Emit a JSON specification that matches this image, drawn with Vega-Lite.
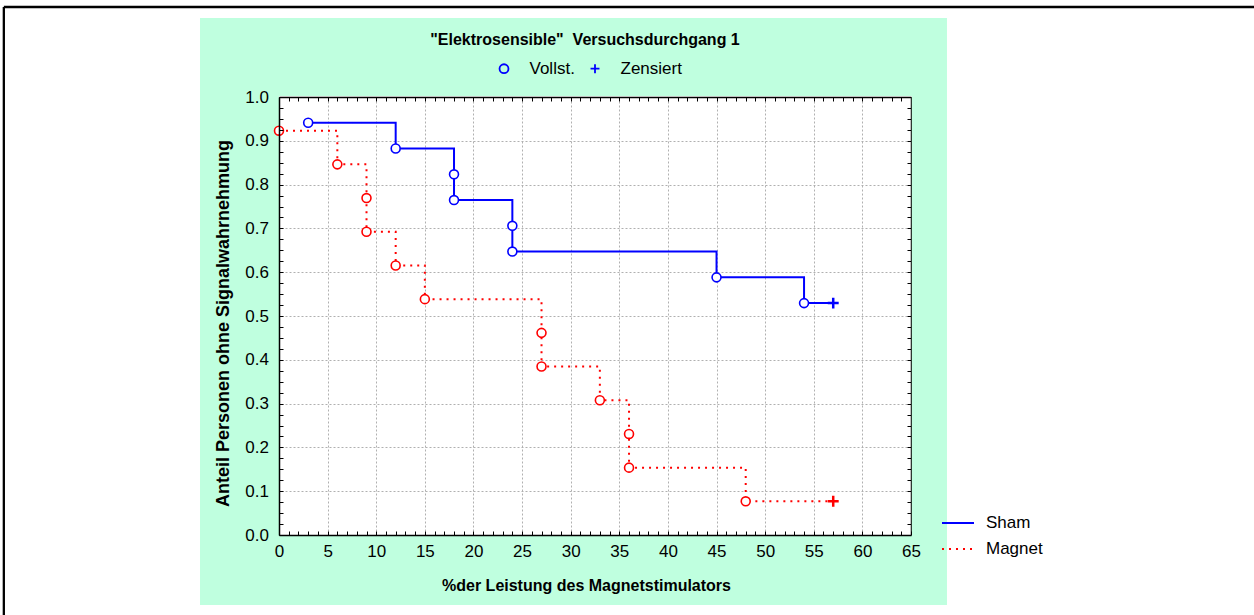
{
  "$schema": "https://vega.github.io/schema/vega-lite/v6.json",
  "autosize": "none",
  "width": 632,
  "height": 438,
  "padding": {"left": 279, "top": 97, "right": 343, "bottom": 80},
  "background": "white",
  "config": {"font": "Liberation Sans", "view": {"stroke": null}},
  "title": {"text": "\"Elektrosensible\"\u00a0 Versuchsdurchgang 1", "fontSize": 16, "fontWeight": "bold", "color": "black", "anchor": "middle", "offset": -42, "dx": -10, "zindex": 1},
  "data": {"values": [
    {"g": "Sham", "x": 3, "s": 0.9412, "t": "Vollst.", "i": 1},
    {"g": "Sham", "x": 12, "s": 0.8824, "t": "Vollst.", "i": 2},
    {"g": "Sham", "x": 18, "s": 0.8235, "t": "Vollst.", "i": 3},
    {"g": "Sham", "x": 18, "s": 0.7647, "t": "Vollst.", "i": 4},
    {"g": "Sham", "x": 24, "s": 0.7059, "t": "Vollst.", "i": 5},
    {"g": "Sham", "x": 24, "s": 0.6471, "t": "Vollst.", "i": 6},
    {"g": "Sham", "x": 45, "s": 0.5882, "t": "Vollst.", "i": 7},
    {"g": "Sham", "x": 54, "s": 0.5294, "t": "Vollst.", "i": 8},
    {"g": "Sham", "x": 57, "s": 0.5294, "t": "Zensiert", "i": 9},
    {"g": "Magnet", "x": 0, "s": 0.9231, "t": "Vollst.", "i": 1},
    {"g": "Magnet", "x": 6, "s": 0.8462, "t": "Vollst.", "i": 2},
    {"g": "Magnet", "x": 9, "s": 0.7692, "t": "Vollst.", "i": 3},
    {"g": "Magnet", "x": 9, "s": 0.6923, "t": "Vollst.", "i": 4},
    {"g": "Magnet", "x": 12, "s": 0.6154, "t": "Vollst.", "i": 5},
    {"g": "Magnet", "x": 15, "s": 0.5385, "t": "Vollst.", "i": 6},
    {"g": "Magnet", "x": 27, "s": 0.4615, "t": "Vollst.", "i": 7},
    {"g": "Magnet", "x": 27, "s": 0.3846, "t": "Vollst.", "i": 8},
    {"g": "Magnet", "x": 33, "s": 0.3077, "t": "Vollst.", "i": 9},
    {"g": "Magnet", "x": 36, "s": 0.2308, "t": "Vollst.", "i": 10},
    {"g": "Magnet", "x": 36, "s": 0.1538, "t": "Vollst.", "i": 11},
    {"g": "Magnet", "x": 48, "s": 0.0769, "t": "Vollst.", "i": 12},
    {"g": "Magnet", "x": 57, "s": 0.0769, "t": "Zensiert", "i": 13}
  ]},
  "layer": [
    {
      "data": {"values": [{}]},
      "mark": {"type": "rect", "color": "#BFFFDF"},
      "encoding": {
        "x": {"datum": -8.125, "type": "quantitative", "scale": {"domain": [0, 65], "nice": false, "zero": false}, "axis": null},
        "x2": {"datum": 68.7},
        "y": {"datum": 1.0025, "type": "quantitative", "scale": {"domain": [0, 1], "nice": false}, "axis": null},
        "y2": {"datum": 1.1804}
      }
    },
    {
      "data": {"values": [{}]},
      "mark": {"type": "rect", "color": "#BFFFDF"},
      "encoding": {
        "x": {"datum": -8.125, "type": "quantitative", "axis": null},
        "x2": {"datum": 68.7},
        "y": {"datum": -0.1598, "type": "quantitative", "axis": null},
        "y2": {"datum": 0}
      }
    },
    {
      "data": {"values": [{}]},
      "mark": {"type": "rect", "color": "#BFFFDF"},
      "encoding": {
        "x": {"datum": -8.125, "type": "quantitative", "axis": null},
        "x2": {"datum": 0},
        "y": {"datum": 0, "type": "quantitative", "axis": null},
        "y2": {"datum": 1.0025}
      }
    },
    {
      "data": {"values": [{}]},
      "mark": {"type": "rect", "color": "#BFFFDF"},
      "encoding": {
        "x": {"datum": 65.08, "type": "quantitative", "axis": null},
        "x2": {"datum": 68.7},
        "y": {"datum": 0, "type": "quantitative", "axis": null},
        "y2": {"datum": 1.0025}
      }
    },
    {
      "data": {"values": [{}]},
      "mark": {"type": "rule", "color": "black", "strokeWidth": 2.3},
      "encoding": {
        "x": {"datum": -28.3, "type": "quantitative", "axis": null},
        "x2": {"datum": 200},
        "y": {"datum": 1.2055, "type": "quantitative", "axis": null}
      }
    },
    {
      "data": {"values": [{}]},
      "mark": {"type": "rule", "color": "black", "strokeWidth": 2.3},
      "encoding": {
        "x": {"datum": -28.3, "type": "quantitative", "axis": null},
        "y": {"datum": 1.2055, "type": "quantitative", "axis": null},
        "y2": {"datum": -2}
      }
    },
    {
      "mark": {"type": "line", "interpolate": "step-after", "strokeWidth": 2},
      "encoding": {
        "x": {"field": "x", "type": "quantitative", "scale": {"domain": [0, 65], "nice": false, "zero": false},
          "axis": {"orient": "bottom", "zindex": 1, "values": [0,1,2,3,4,5,6,7,8,9,10,11,12,13,14,15,16,17,18,19,20,21,22,23,24,25,26,27,28,29,30,31,32,33,34,35,36,37,38,39,40,41,42,43,44,45,46,47,48,49,50,51,52,53,54,55,56,57,58,59,60,61,62,63,64,65],
            "grid": false, "domainColor": "black", "domainWidth": 1.5, "tickColor": "black", "tickSize": -4, "tickWidth": 1,
            "labelExpr": "datum.value % 5 === 0 ? datum.label : ''", "labelOverlap": false, "labelFlush": false,
            "labelFontSize": 17, "labelColor": "black", "labelPadding": 12,
            "title": "%der Leistung des Magnetstimulators", "titleFontSize": 16, "titleFontWeight": "bold", "titleColor": "black", "titlePadding": 18, "titleX": 307}},
        "y": {"field": "s", "type": "quantitative", "scale": {"domain": [0, 1], "nice": false},
          "axis": {"orient": "left", "zindex": 1, "values": [0,0.025,0.05,0.075,0.1,0.125,0.15,0.175,0.2,0.225,0.25,0.275,0.3,0.325,0.35,0.375,0.4,0.425,0.45,0.475,0.5,0.525,0.55,0.575,0.6,0.625,0.65,0.675,0.7,0.725,0.75,0.775,0.8,0.825,0.85,0.875,0.9,0.925,0.95,0.975,1],
            "grid": false, "domainColor": "black", "domainWidth": 1.5, "tickColor": "black", "tickSize": -4, "tickWidth": 1,
            "labelExpr": "abs(datum.value*10 - round(datum.value*10)) < 0.001 ? format(datum.value, '.1f') : ''", "labelOverlap": false, "labelFlush": false,
            "labelFontSize": 17, "labelColor": "black", "labelPadding": 14.5,
            "title": "Anteil Personen ohne Signalwahrnehmung", "titleFontSize": 18, "titleFontWeight": "bold", "titleColor": "black", "titlePadding": 12, "titleY": 226}},
        "order": {"field": "i", "type": "quantitative"},
        "color": {"field": "g", "type": "nominal", "scale": {"domain": ["Sham", "Magnet"], "range": ["#0000FF", "#FF0000"]},
          "legend": {"orient": "none", "legendX": 662, "legendY": 409, "title": null, "symbolType": "stroke", "symbolSize": 1024, "symbolStrokeWidth": 2, "labelFontSize": 17, "labelColor": "black", "labelOffset": 11, "rowPadding": 1, "padding": 0, "zindex": 1}},
        "strokeDash": {"field": "g", "type": "nominal", "scale": {"domain": ["Sham", "Magnet"], "range": [[1, 0], [2, 5]]},
          "legend": {"orient": "none", "legendX": 662, "legendY": 409, "title": null, "symbolType": "stroke", "symbolSize": 1024, "symbolStrokeWidth": 2, "labelFontSize": 17, "labelColor": "black", "labelOffset": 11, "rowPadding": 1, "padding": 0, "zindex": 1}}
      }
    },
    {
      "transform": [{"filter": "datum.t === 'Vollst.'"}],
      "mark": {"type": "point", "shape": "circle", "filled": true, "color": "white", "size": 80, "opacity": 1},
      "encoding": {
        "x": {"field": "x", "type": "quantitative", "axis": null},
        "y": {"field": "s", "type": "quantitative", "axis": null}
      }
    },
    {
      "transform": [{"filter": "datum.t === 'Vollst.' && datum.g === 'Sham'"}],
      "mark": {"type": "point", "filled": false, "color": "#0000FF", "size": 80, "strokeWidth": 1.6, "opacity": 1},
      "encoding": {
        "x": {"field": "x", "type": "quantitative", "scale": {"domain": [0, 65], "nice": false, "zero": false},
          "axis": {"orient": "top", "zindex": 0, "values": [0,1,2,3,4,5,6,7,8,9,10,11,12,13,14,15,16,17,18,19,20,21,22,23,24,25,26,27,28,29,30,31,32,33,34,35,36,37,38,39,40,41,42,43,44,45,46,47,48,49,50,51,52,53,54,55,56,57,58,59,60,61,62,63,64,65],
            "labels": false, "title": null, "grid": true, "gridOpacity": {"condition": {"test": "datum.value % 5 === 0", "value": 1}, "value": 0},
            "gridColor": "#B0B0B0", "gridDash": [2, 2], "gridWidth": 1,
            "domainColor": "black", "domainWidth": 1.5, "tickColor": "black", "tickSize": -4, "tickWidth": 1}},
        "y": {"field": "s", "type": "quantitative", "scale": {"domain": [0, 1], "nice": false},
          "axis": {"orient": "right", "zindex": 0, "values": [0,0.025,0.05,0.075,0.1,0.125,0.15,0.175,0.2,0.225,0.25,0.275,0.3,0.325,0.35,0.375,0.4,0.425,0.45,0.475,0.5,0.525,0.55,0.575,0.6,0.625,0.65,0.675,0.7,0.725,0.75,0.775,0.8,0.825,0.85,0.875,0.9,0.925,0.95,0.975,1],
            "labels": false, "title": null, "grid": true, "gridOpacity": {"condition": {"test": "abs(datum.value*10 - round(datum.value*10)) < 0.001", "value": 1}, "value": 0},
            "gridColor": "#B0B0B0", "gridDash": [2, 2], "gridWidth": 1,
            "domainColor": "black", "domainWidth": 1.5, "tickColor": "black", "tickSize": -4, "tickWidth": 1}},
        "shape": {"field": "t", "type": "nominal", "scale": {"domain": ["Vollst.", "Zensiert"], "range": ["circle", "M-1,0L1,0M0,-1L0,1"]},
          "legend": {"orient": "none", "direction": "horizontal", "legendX": 216.5, "legendY": -37, "title": null, "symbolSize": 80, "symbolStrokeColor": "#0000FF", "symbolStrokeWidth": 1.8, "labelFontSize": 17, "labelColor": "black", "labelOffset": 17, "columnPadding": 11, "padding": 0, "zindex": 1}}
      }
    },
    {
      "transform": [{"filter": "datum.t === 'Vollst.' && datum.g === 'Magnet'"}],
      "mark": {"type": "point", "filled": false, "color": "#FF0000", "size": 80, "strokeWidth": 1.6, "opacity": 1},
      "encoding": {
        "x": {"field": "x", "type": "quantitative", "axis": null},
        "y": {"field": "s", "type": "quantitative", "axis": null},
        "shape": {"field": "t", "type": "nominal", "legend": null}
      }
    },
    {
      "transform": [{"filter": "datum.t === 'Zensiert' && datum.g === 'Sham'"}],
      "mark": {"type": "point", "filled": false, "color": "#0000FF", "size": 120, "strokeWidth": 2.5, "opacity": 1},
      "encoding": {
        "x": {"field": "x", "type": "quantitative", "axis": null},
        "y": {"field": "s", "type": "quantitative", "axis": null},
        "shape": {"field": "t", "type": "nominal", "legend": null}
      }
    },
    {
      "transform": [{"filter": "datum.t === 'Zensiert' && datum.g === 'Magnet'"}],
      "mark": {"type": "point", "filled": false, "color": "#FF0000", "size": 120, "strokeWidth": 2.5, "opacity": 1},
      "encoding": {
        "x": {"field": "x", "type": "quantitative", "axis": null},
        "y": {"field": "s", "type": "quantitative", "axis": null},
        "shape": {"field": "t", "type": "nominal", "legend": null}
      }
    }
  ],
  "resolve": {"axis": {"x": "independent", "y": "independent"}}
}
